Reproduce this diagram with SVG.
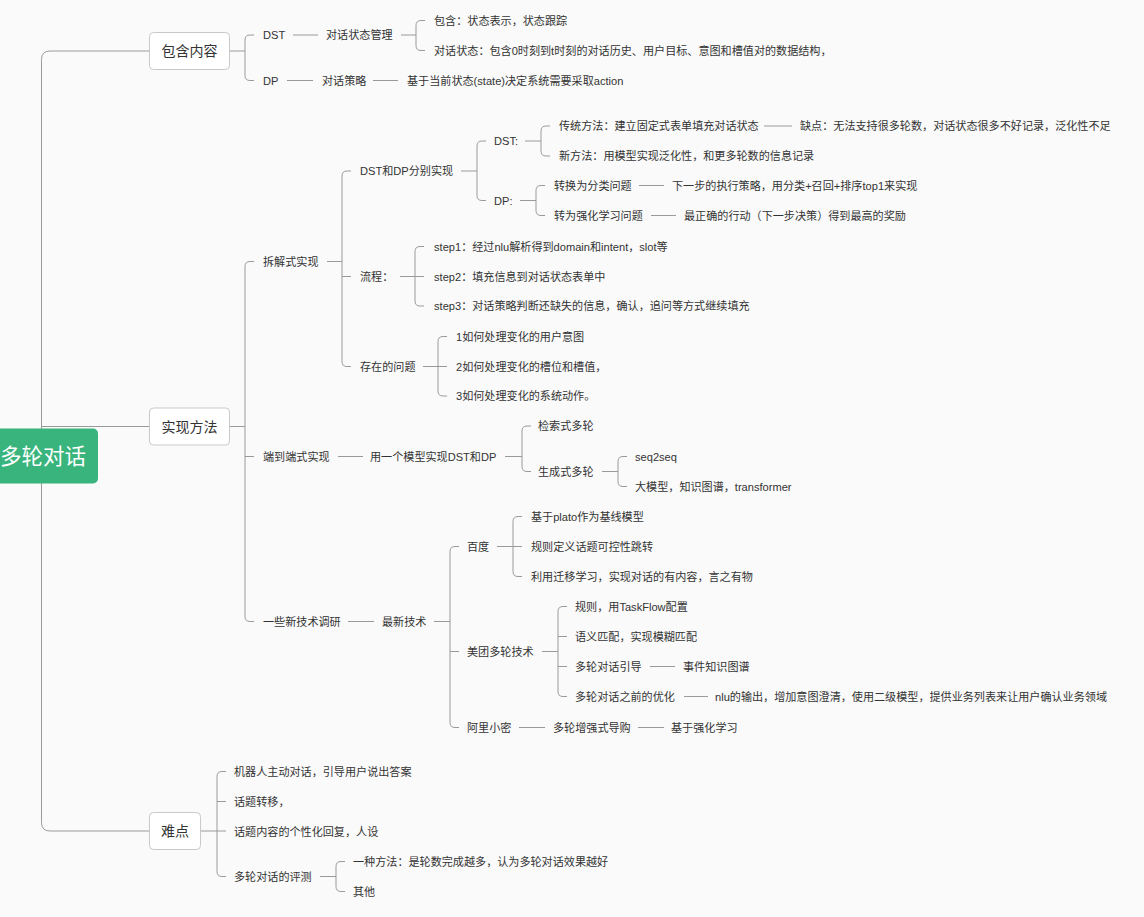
<svg xmlns="http://www.w3.org/2000/svg" width="1144" height="917" viewBox="0 0 1144 917">
<style>
.t{font-family:"Liberation Sans","Noto Sans CJK SC",sans-serif;font-size:11.1px;fill:#333;dominant-baseline:central}
.bt{font-family:"Liberation Sans","Noto Sans CJK SC",sans-serif;font-size:14px;fill:#333;dominant-baseline:central;text-anchor:middle}
.box{fill:#fff;stroke:#c9c9c9;stroke-width:1}
.c{fill:none;stroke:#9a9a9a;stroke-width:1}
</style>
<rect x="0" y="0" width="1144" height="917" fill="#fafafa"/>
<g id="connectors" class="c">
<path class="c" d="M149,51 H50 Q41.5,51 41.5,59.5 V822.5 Q41.5,831 50,831 H149 M41.5,426.5 H149"/>
<path class="c" d="M229.5,51 H245 M254,35 H250 Q245,35 245,40 V75.5 Q245,80.5 250,80.5 H254"/>
<path class="c" d="M293,35 H318 M401,35 H416 M425,20.5 H421 Q416,20.5 416,25.5 V45.5 Q416,50.5 421,50.5 H425"/>
<path class="c" d="M287,80.5 H313 M373,80.5 H398"/>
<path class="c" d="M229.5,426.5 H245 M254,261.5 H250 Q245,261.5 245,266.5 V616.5 Q245,621.5 250,621.5 H254 M245,456.5 H254"/>
<path class="c" d="M327,261.5 H342 M351,171 H347 Q342,171 342,176 V361.5 Q342,366.5 347,366.5 H351 M342,276.5 H351"/>
<path class="c" d="M461,171 H477 M486,141 H482 Q477,141 477,146 V195.5 Q477,200.5 482,200.5 H486"/>
<path class="c" d="M525,141 H541 M550,126 H546 Q541,126 541,131 V151 Q541,156 546,156 H550 M764,126 H792"/>
<path class="c" d="M520,200.5 H536 M545,185.5 H541 Q536,185.5 536,190.5 V210.5 Q536,215.5 541,215.5 H545 M639,185.5 H664 M651,215.5 H676"/>
<path class="c" d="M400,276.5 H424 M424,246.5 H420 Q415,246.5 415,251.5 V301 Q415,306 420,306 H424"/>
<path class="c" d="M423,366.5 H447 M447,336.5 H443 Q438,336.5 438,341.5 V391 Q438,396 443,396 H447"/>
<path class="c" d="M338,456.5 H363 M505,456.5 H522 M531,426 H527 Q522,426 522,431 V466.5 Q522,471.5 527,471.5 H531"/>
<path class="c" d="M602,471.5 H618 M627,456.5 H623 Q618,456.5 618,461.5 V481.5 Q618,486.5 623,486.5 H627"/>
<path class="c" d="M348,621.5 H374 M434,621.5 H450 M459,546.5 H455 Q450,546.5 450,551.5 V722.5 Q450,727.5 455,727.5 H459 M450,651.5 H459"/>
<path class="c" d="M497,546.5 H522 M522,516.5 H518 Q513,516.5 513,521.5 V571.5 Q513,576.5 518,576.5 H522"/>
<path class="c" d="M542,651.5 H558 M567,606.5 H563 Q558,606.5 558,611.5 V691.5 Q558,696.5 563,696.5 H567 M558,636.5 H567 M558,666.5 H567"/>
<path class="c" d="M650,666.5 H675 M684,696.5 H708 M519,727.5 H545 M638,727.5 H664"/>
<path class="c" d="M200.5,831 H226 M226,771.5 H222 Q217,771.5 217,776.5 V871.5 Q217,876.5 222,876.5 H226 M217,801.5 H226"/>
<path class="c" d="M320,876.5 H336 M345,861.5 H341 Q336,861.5 336,866.5 V886.5 Q336,891.5 341,891.5 H345"/>
</g>
<g id="n-root"><rect x="-20" y="428.5" width="118" height="55" rx="5" fill="#38b47c"/><text x="86" y="456.5" font-family="Liberation Sans,Noto Sans CJK SC,sans-serif" font-size="21.5" fill="#fff" text-anchor="end" dominant-baseline="central">多轮对话</text></g>
<g id="n-contain"><rect class="box" x="149.5" y="32.5" width="80" height="37" rx="4"/><text class="bt" x="189.5" y="51">包含内容</text></g>
<g id="n-impl"><rect class="box" x="149.5" y="408" width="80" height="37" rx="4"/><text class="bt" x="189.5" y="426.5">实现方法</text></g>
<g id="n-diff"><rect class="box" x="149.5" y="812.5" width="51" height="37" rx="4"/><text class="bt" x="175" y="831">难点</text></g>
<g id="n1"><text class="t" x="263" y="35">DST</text></g>
<g id="n2"><text class="t" x="326" y="35">对话状态管理</text></g>
<g id="n3"><text class="t" x="434" y="20.5">包含：状态表示，状态跟踪</text></g>
<g id="n4"><text class="t" x="434" y="50.5">对话状态：包含0时刻到t时刻的对话历史、用户目标、意图和槽值对的数据结构，</text></g>
<g id="n5"><text class="t" x="263" y="80.5">DP</text></g>
<g id="n6"><text class="t" x="322" y="80.5">对话策略</text></g>
<g id="n7"><text class="t" x="407" y="80.5">基于当前状态(state)决定系统需要采取action</text></g>
<g id="n8"><text class="t" x="263" y="261.5">拆解式实现</text></g>
<g id="n9"><text class="t" x="360" y="171">DST和DP分别实现</text></g>
<g id="n10"><text class="t" x="494" y="141">DST:</text></g>
<g id="n11"><text class="t" x="559" y="126">传统方法：建立固定式表单填充对话状态</text></g>
<g id="n12"><text class="t" x="800" y="126">缺点：无法支持很多轮数，对话状态很多不好记录，泛化性不足</text></g>
<g id="n13"><text class="t" x="559" y="156">新方法：用模型实现泛化性，和更多轮数的信息记录</text></g>
<g id="n14"><text class="t" x="494" y="200.5">DP:</text></g>
<g id="n15"><text class="t" x="554" y="185.5">转换为分类问题</text></g>
<g id="n16"><text class="t" x="672" y="185.5">下一步的执行策略，用分类+召回+排序top1来实现</text></g>
<g id="n17"><text class="t" x="554" y="215.5">转为强化学习问题</text></g>
<g id="n18"><text class="t" x="684" y="215.5">最正确的行动（下一步决策）得到最高的奖励</text></g>
<g id="n19"><text class="t" x="360" y="276.5">流程：</text></g>
<g id="n20"><text class="t" x="434" y="246.5">step1：经过nlu解析得到domain和intent，slot等</text></g>
<g id="n21"><text class="t" x="434" y="276.5">step2：填充信息到对话状态表单中</text></g>
<g id="n22"><text class="t" x="434" y="306">step3：对话策略判断还缺失的信息，确认，追问等方式继续填充</text></g>
<g id="n23"><text class="t" x="360" y="366.5">存在的问题</text></g>
<g id="n24"><text class="t" x="456" y="336.5">1如何处理变化的用户意图</text></g>
<g id="n25"><text class="t" x="456" y="366.5">2如何处理变化的槽位和槽值，</text></g>
<g id="n26"><text class="t" x="456" y="396">3如何处理变化的系统动作。</text></g>
<g id="n27"><text class="t" x="263" y="456.5">端到端式实现</text></g>
<g id="n28"><text class="t" x="370" y="456.5">用一个模型实现DST和DP</text></g>
<g id="n29"><text class="t" x="538" y="426">检索式多轮</text></g>
<g id="n30"><text class="t" x="538" y="471.5">生成式多轮</text></g>
<g id="n31"><text class="t" x="635" y="456.5">seq2seq</text></g>
<g id="n32"><text class="t" x="635" y="486.5">大模型，知识图谱，transformer</text></g>
<g id="n33"><text class="t" x="263" y="621.5">一些新技术调研</text></g>
<g id="n34"><text class="t" x="382" y="621.5">最新技术</text></g>
<g id="n35"><text class="t" x="467" y="546.5">百度</text></g>
<g id="n36"><text class="t" x="531" y="516.5">基于plato作为基线模型</text></g>
<g id="n37"><text class="t" x="531" y="546.5">规则定义话题可控性跳转</text></g>
<g id="n38"><text class="t" x="531" y="576.5">利用迁移学习，实现对话的有内容，言之有物</text></g>
<g id="n39"><text class="t" x="467" y="651.5">美团多轮技术</text></g>
<g id="n40"><text class="t" x="575" y="606.5">规则，用TaskFlow配置</text></g>
<g id="n41"><text class="t" x="575" y="636.5">语义匹配，实现模糊匹配</text></g>
<g id="n42"><text class="t" x="575" y="666.5">多轮对话引导</text></g>
<g id="n43"><text class="t" x="683" y="666.5">事件知识图谱</text></g>
<g id="n44"><text class="t" x="575" y="696.5">多轮对话之前的优化</text></g>
<g id="n45"><text class="t" x="715" y="696.5">nlu的输出，增加意图澄清，使用二级模型，提供业务列表来让用户确认业务领域</text></g>
<g id="n46"><text class="t" x="467" y="727.5">阿里小密</text></g>
<g id="n47"><text class="t" x="553" y="727.5">多轮增强式导购</text></g>
<g id="n48"><text class="t" x="671" y="727.5">基于强化学习</text></g>
<g id="n49"><text class="t" x="234" y="771.5">机器人主动对话，引导用户说出答案</text></g>
<g id="n50"><text class="t" x="234" y="801.5">话题转移，</text></g>
<g id="n51"><text class="t" x="234" y="831.5">话题内容的个性化回复，人设</text></g>
<g id="n52"><text class="t" x="234" y="876.5">多轮对话的评测</text></g>
<g id="n53"><text class="t" x="353" y="861.5">一种方法：是轮数完成越多，认为多轮对话效果越好</text></g>
<g id="n54"><text class="t" x="353" y="891.5">其他</text></g>
</svg>
